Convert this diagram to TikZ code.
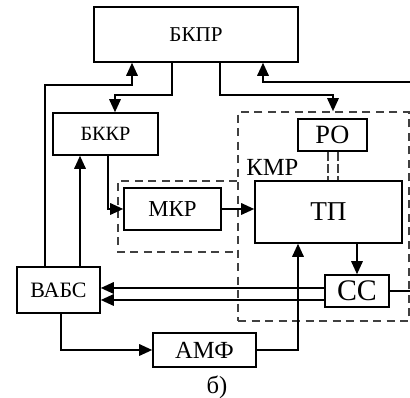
\documentclass[tikz,border=0pt]{standalone}
\usepackage{fontspec}
\setmainfont{Liberation Serif}
\usetikzlibrary{arrows.meta}
\tikzset{
  blk/.style 2 args={draw, line width=0.9pt, minimum width=#1*0.2mm, minimum height=#2*0.2mm, inner sep=0pt},
  fs/.style={font=\fontsize{#1pt}{#1pt}\selectfont},
  arr/.style={line width=0.95pt, -{Triangle[length=2.6mm,width=2.3mm]}},
  ln/.style={line width=0.95pt},
  dsh/.style={draw=black!75, line width=0.95pt, dash pattern=on 1.6mm off 1.1mm},
}
\begin{document}
\begin{tikzpicture}[x=0.2mm,y=-0.2mm]
      \useasboundingbox (0,0) rectangle (410,398);
      \draw
        (196,34.5) node[blk={204}{55}, fs=12] (bkpr){БКПР}
        (105.5,134) node[blk={105}{42}, fs=11.5] (bkkr){БККР}
        (332.5,135) node[blk={69}{32}, fs=15] (ro){РО}
        (172.5,209) node[blk={97}{42}, fs=13] (mkr){МКР}
        (328.5,212) node[blk={147}{62}, fs=15.5] (tp){ТП}
        (357,291) node[blk={64}{32}, fs=17] (cc){СС}
        (58.5,290) node[blk={83}{46}, fs=12.5] (vabs){ВАБС}
        (204.5,350) node[blk={103}{34}, fs=14] (amf){АМФ};
      % dashed groups
      \node[dsh, minimum width=171*0.2mm, minimum height=209*0.2mm] (kmr) at (323.5,216.5) {};
      \draw[dsh] (kmr.west |- 0,181) -| (118,252) -- (kmr.west |- 0,252);
      \node[anchor=west, fs=14, inner sep=0pt] (kmrl) at (246,167) {КМР};
      \node[fs=14, inner sep=0pt] (cap) at (217,387) {б)};
      % bend points
      \coordinate (l1) at (45,85);
      \coordinate (l2) at (132,85);
      \coordinate (d1) at (172,95);
      \coordinate (d2) at (115,95);
      \coordinate (u1) at (220,95);
      \coordinate (u2) at (333,95);
      \coordinate (r1) at (410,82);
      \coordinate (r2) at (263,82);
      \coordinate (m1) at (108,209);
      \coordinate (b1) at (80,267);
      \coordinate (e1) at (410,291);
      \coordinate (v1) at (61,350);
      \coordinate (t1) at (298,350);
      \begin{scope}[arr]
        \draw (vabs.north -| l1) -- (l1) -- (l2) -- (bkpr.south -| l2);
        \draw (bkpr.south -| d1) -- (d1) -- (d2) -- (bkkr.north -| d2);
        \draw (bkpr.south -| u1) -- (u1) -- (u2) -- (kmr.north -| u2);
        \draw (r1) -- (r2) -- (bkpr.south -| r2);
        \draw (bkkr.south -| m1) -- (m1) -- (mkr.west);
        \draw (mkr.east) -- (mkr.east -| tp.west);
        \draw (cc.north |- tp.south) -- (cc.north);
        \draw ([yshift=0.6mm]cc.west) -- ([yshift=0.6mm]cc.west -| vabs.east);
        \draw ([yshift=-1.8mm]cc.west) -- ([yshift=-1.8mm]cc.west -| vabs.east);
        \draw (b1) -- (bkkr.south -| b1);
        \draw (vabs.south -| v1) -- (v1) -- (amf.west);
        \draw (amf.east) -- (t1) -- (t1 |- tp.south);
      \end{scope}
      \draw[ln] (cc.east) -- (cc.east -| e1);
      \draw[dsh, dash pattern=on 1.8mm off 0.6mm] ([xshift=-0.9mm]ro.south) -- ([xshift=-0.9mm]ro.south |- tp.north);
      \draw[dsh, dash pattern=on 1.8mm off 0.6mm] ([xshift=1.1mm]ro.south) -- ([xshift=1.1mm]ro.south |- tp.north);
    \end{tikzpicture}
\end{document}
